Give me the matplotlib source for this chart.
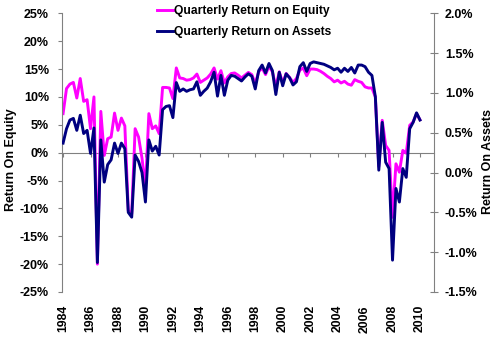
# 분기별 ROE / ROA 그래프를 그려봅니다.
import matplotlib.pyplot as plt
import numpy as np
import pandas as pd

plt.rcParams['font.family'] = ['Liberation Sans', 'DejaVu Sans']
plt.rcParams['font.weight'] = 'bold'

# 분기별 자기자본이익률 (%)
roe = [7.0, 11.5, 12.3, 12.6, 9.8, 13.3, 9.2, 9.5, 4.3, 10.0,
       -20.0, 7.4, -0.5, 2.5, 2.8, 7.1, 4.0, 6.2, 4.8, -10.4,
       -11.0, 4.3, 2.8, -1.0, -6.3, 7.0, 4.3, 4.8, 3.4, 11.7,
       11.7, 11.6, 9.7, 15.2, 13.4, 13.3, 13.0, 13.1, 13.4, 14.1,
       12.6, 13.0, 13.4, 14.1, 15.2, 13.2, 14.7, 12.5, 13.6, 14.2,
       14.3, 13.9, 13.4, 13.9, 14.4, 14.0, 12.4, 14.5, 15.2, 14.0,
       15.5, 14.5, 11.8, 14.5, 12.5, 14.2, 13.5, 12.6, 13.3, 14.8,
       15.2, 13.8, 15.0, 15.0, 14.9, 14.6, 14.2, 13.7, 13.3, 12.7,
       13.0, 12.5, 12.8, 12.3, 12.1, 13.1, 12.8, 12.6, 11.8, 11.6,
       11.6, 10.0, -2.5, 5.8, 1.3, 0.4, -11.6, -2.0, -3.5, 0.4,
       -0.1, 4.9, 5.5, 7.0, 5.9]

# 분기별 총자산이익률 (%)
roa = [0.37, 0.55, 0.66, 0.68, 0.53, 0.72, 0.49, 0.53, 0.24, 0.56,
       -1.13, 0.41, -0.12, 0.10, 0.16, 0.37, 0.24, 0.37, 0.30, -0.50,
       -0.56, 0.22, 0.14, 0.00, -0.37, 0.41, 0.27, 0.33, 0.22, 0.79,
       0.83, 0.84, 0.69, 1.13, 1.02, 1.05, 1.02, 1.04, 1.05, 1.14,
       0.97, 1.02, 1.06, 1.14, 1.26, 0.96, 1.22, 0.97, 1.16, 1.22,
       1.21, 1.18, 1.15, 1.20, 1.24, 1.21, 1.05, 1.28, 1.35, 1.25,
       1.37, 1.28, 0.98, 1.26, 1.09, 1.24, 1.19, 1.10, 1.14, 1.33,
       1.38, 1.27, 1.37, 1.39, 1.38, 1.37, 1.36, 1.34, 1.32, 1.29,
       1.31, 1.26, 1.31, 1.27, 1.32, 1.25, 1.35, 1.35, 1.33, 1.26,
       1.22, 0.95, 0.03, 0.63, 0.13, 0.05, -1.10, -0.20, -0.37, 0.05,
       -0.06, 0.55, 0.63, 0.75, 0.66]

roe_ticks = list(range(-25, 30, 5))
roa_ticks = [-1.5, -1.0, -0.5, 0.0, 0.5, 1.0, 1.5, 2.0]
year_ticks = list(range(1984, 2012, 2))

# 분기를 소수 연도로 바꿉니다.
quarters = pd.period_range('1984Q1', periods=len(roe), freq='Q')
x = quarters.year + (quarters.quarter - 1) / 4

gray = '#808080'

fig = plt.figure(figsize=(5, 3.41), dpi=100)
ax = fig.add_axes([0.1234, 0.1437, 0.744, 0.8173])
ax2 = ax.twinx()

l1, = ax.plot(x, roe, color='#FF00FF', lw=2.1)
l2, = ax2.plot(x, roa, color='#000080', lw=2.1)

ax.set_xlim(1983.9, 2011.0)
ax.set_ylim(-25, 25)
ax2.set_ylim(-1.5, 2.0)

# 왼쪽 축
ax.set_yticks(roe_ticks)
ax.set_yticklabels([f'{v}%' for v in roe_ticks])
ax.tick_params(axis='y', direction='out', length=3.2, width=0.8, color=gray,
               pad=6, labelsize=9)

# 오른쪽 축
ax2.set_yticks(roa_ticks)
ax2.set_yticklabels([f'{v:.1f}%' for v in roa_ticks])
ax2.tick_params(axis='y', direction='inout', length=6, width=0.8, color=gray,
                pad=5, labelsize=9)

# 아래쪽 연도 라벨
ax.set_xticks(year_ticks)
ax.set_xticklabels([str(y) for y in year_ticks])
ax.tick_params(axis='x', length=0, pad=9.4, labelrotation=90, labelsize=8.8)

for a in (ax, ax2):
    for s in ('top', 'bottom'):
        a.spines[s].set_visible(False)
ax.spines['right'].set_visible(False)
ax2.spines['left'].set_visible(False)
ax.spines['left'].set_color(gray)
ax2.spines['right'].set_color(gray)

# 0% 위치의 가로축
sec = ax.secondary_xaxis(0.5)
sec.set_alignment('bottom')
sec.set_xticks(year_ticks)
sec.tick_params(axis='x', direction='out', length=3, width=0.8, color=gray,
                labelbottom=False)
sec.spines['bottom'].set_color(gray)

fig.text(11 / 500, 1 - 160 / 341, 'Return On Equity', rotation=90,
         ha='center', va='center', fontsize=9)
fig.text(488 / 500, 1 - 161 / 341, 'Return On Assets', rotation=90,
         ha='center', va='center', fontsize=9)

fig.legend([l1, l2], ['Quarterly Return on Equity', 'Quarterly Return on Assets'],
           loc='upper left', bbox_to_anchor=(157 / 500, 1 - 5 / 341),
           frameon=False, fontsize=8.7, handlelength=1.3, handletextpad=0.1,
           labelspacing=0.75, borderpad=0, borderaxespad=0)

fig.savefig('out.png', dpi=100)
